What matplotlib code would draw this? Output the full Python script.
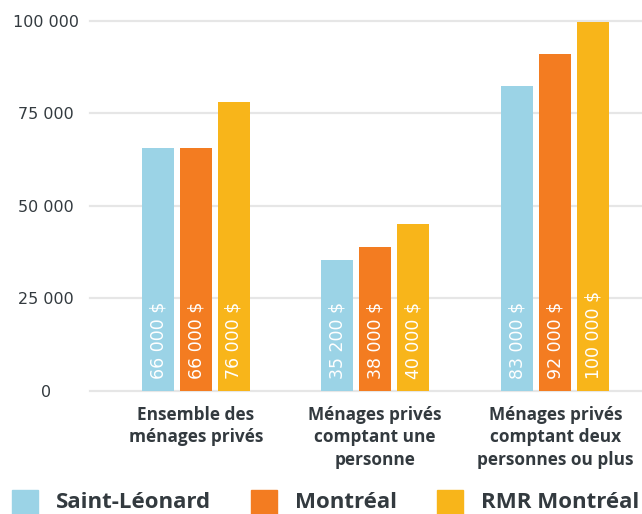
import numpy as np
import matplotlib
matplotlib.use("Agg")
import matplotlib.pyplot as plt
from matplotlib.patches import Rectangle

# values (bar heights) and the labels printed on the bars
categories = ["Ensemble des\nménages privés",
              "Ménages privés\ncomptant une\npersonne",
              "Ménages privés\ncomptant deux\npersonnes ou plus"]
series = ["Saint-Léonard", "Montréal", "RMR Montréal"]
saint_leonard = [65500, 35500, 82500]
montreal = [65500, 39000, 91000]
rmr = [78000, 45000, 99700]
sl_labels = ["66 000 $", "35 200 $", "83 000 $"]
mtl_labels = ["66 000 $", "38 000 $", "92 000 $"]
rmr_labels = ["76 000 $", "40 000 $", "100 000 $"]
yticks = [0, 25000, 50000, 75000, 100000]
ytick_labels = ["0", "25 000", "50 000", "75 000", "100 000"]

colors = ["#9BD3E6", "#F37C21", "#F8B51A"]
text_color = "#333a3f"
plt.rcParams['font.family'] = ['DejaVu Sans']

fig = plt.figure(figsize=(6.42, 5.14), dpi=100)
ax = fig.add_axes([90 / 642, 123 / 514, 552 / 642, 370.3 / 514])

x = np.arange(len(categories)) * 1.0
x[2] = 2.006
width = 0.179
offset = 0.212

values = [saint_leonard, montreal, rmr]
labels = [sl_labels, mtl_labels, rmr_labels]
for i in range(3):
    xs = x + (i - 1) * offset
    ax.bar(xs, values[i], width=width, color=colors[i], zorder=3)
    for xi, lab in zip(xs, labels[i]):
        ax.annotate(lab, (xi, 0), xytext=(0, 8.5), textcoords="offset points",
                    rotation=90, ha="center", va="bottom", color="white",
                    fontsize=12.5, zorder=4)

for yv in yticks:
    ax.axhline(yv, color="#e6e6e6", lw=1.6, zorder=1, clip_on=False)

ax.set_xlim(-0.592, 2.49)
ax.set_ylim(0, 100000)
ax.set_yticks(yticks)
ax.set_yticklabels(ytick_labels, ha="center")
ax.tick_params(axis="y", length=0, pad=31.5, labelsize=11.5, labelcolor=text_color)
ax.set_xticks(x)
ax.set_xticklabels(categories, fontweight="bold", fontsize=12.4, color=text_color,
                   linespacing=1.3, va="top", family="Open Sans")
ax.tick_params(axis="x", length=0, pad=11)
for s in ax.spines.values():
    s.set_visible(False)

# legend along the bottom edge
leg_x = [12, 251, 437]
for name, col, lx in zip(series, colors, leg_x):
    fig.patches.append(Rectangle((lx / 642, 0), 26 / 642, 24 / 514,
                                 transform=fig.transFigure, color=col))
    fig.text((lx + 44) / 642, 6.5 / 514, name, fontsize=16, fontweight="bold",
             color=text_color, va="baseline", ha="left", family="Open Sans")

fig.savefig("out.png", dpi=100)
